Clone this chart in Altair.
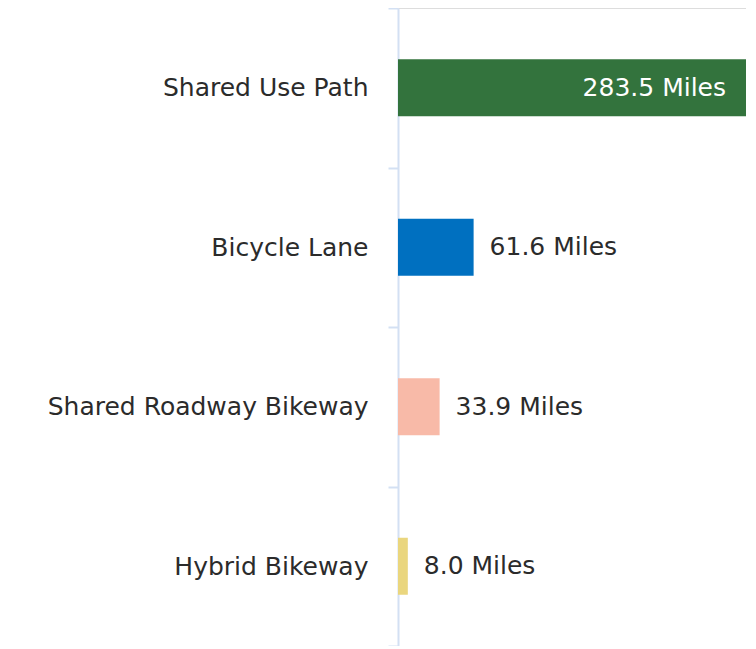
import altair as alt
import pandas as pd

categories = ["Shared Use Path", "Bicycle Lane", "Shared Roadway Bikeway", "Hybrid Bikeway"]
miles = [283.5, 61.6, 33.9, 8.0]
colors = ["#33733d", "#0070c0", "#f8baa8", "#ead67e"]

df = pd.DataFrame({"type": categories, "miles": miles})
df["label"] = df["miles"].map(lambda v: f"{v:.1f} Miles")

FONT = "DejaVu Sans"
FS = 25
AX = "#d3e0f3"

xenc = alt.X("miles:Q", axis=None, scale=alt.Scale(domain=[0, 283.5], nice=False))

base = alt.Chart(df).encode(
    y=alt.Y("type:N", sort=categories, title=None,
            scale=alt.Scale(paddingInner=0, paddingOuter=0),
            axis=alt.Axis(domainColor=AX, domainWidth=2, tickColor=AX, tickWidth=2,
                          tickSize=10, tickBand="extent", labelPadding=20, grid=False,
                          labelFont=FONT, labelFontSize=FS, labelColor="#2b2b2b",
                          labelLimit=400)),
    x=xenc,
)

bars = base.mark_bar(height=57).encode(
    color=alt.Color("type:N", scale=alt.Scale(domain=categories, range=colors), legend=None),
)

inside = base.transform_filter("datum.miles > 200").mark_text(
    align="right", dx=-20, font=FONT, fontSize=FS, color="white"
).encode(text="label:N")

outside = base.transform_filter("datum.miles <= 200").mark_text(
    align="left", dx=16, font=FONT, fontSize=FS, color="#2b2b2b"
).encode(text="label:N")

chart = alt.layer(bars, inside, outside).properties(
    width=348, height=638,
    autosize=alt.AutoSizeParams(type="none"),
    padding={"left": 390, "top": 0, "right": 0, "bottom": 0},
).configure_view(strokeWidth=0, stroke="transparent").configure(background="white")

chart.save("out.html", embed_options={"renderer": "svg", "actions": False})
